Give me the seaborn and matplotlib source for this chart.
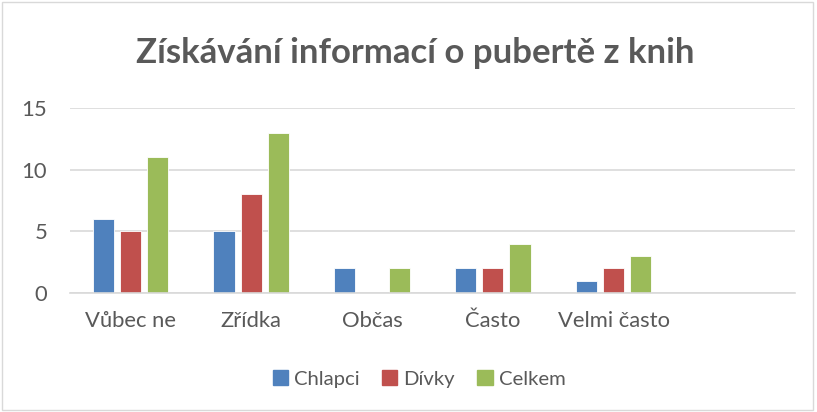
import pandas as pd
import matplotlib.pyplot as plt
import seaborn as sns
from matplotlib.patches import Rectangle

# Data
categories = ["Vůbec ne", "Zřídka", "Občas", "Často", "Velmi často"]
chlapci = [6, 5, 2, 2, 1]
divky = [5, 8, 0, 2, 2]
celkem = [11, 13, 2, 4, 3]
series_names = ["Chlapci", "Dívky", "Celkem"]
colors = ["#4F81BD", "#C0504D", "#9BBB59"]

df = pd.DataFrame({
    "Kategorie": categories * 3,
    "Počet": chlapci + divky + celkem,
    "Skupina": [series_names[0]] * 5 + [series_names[1]] * 5 + [series_names[2]] * 5,
})

sns.set_style("white")
plt.rcParams["font.family"] = ["Lato", "DejaVu Sans"]

fig = plt.figure(figsize=(8.17, 4.12), dpi=100)
ax = fig.add_axes([0.0857, 0.2888, 0.8873, 0.4491])

sns.barplot(data=df, x="Kategorie", y="Počet", hue="Skupina", order=categories,
            hue_order=series_names, palette=colors, saturation=1, width=0.675, gap=0.22,
            edgecolor="white", linewidth=0.6, ax=ax, legend=True)

ax.set_xlim(-0.5, 5.5)
ax.set_ylim(0, 15)
ax.set_yticks([0, 5, 10, 15])
ax.yaxis.grid(True, color="#D9D9D9", linewidth=1.2)
ax.set_axisbelow(True)
for s in ["top", "right", "left"]:
    ax.spines[s].set_visible(False)
ax.spines["bottom"].set_color("#D9D9D9")
ax.spines["bottom"].set_linewidth(1.2)
ax.set_xlabel("")
ax.set_ylabel("")
ax.tick_params(axis="both", length=0, labelsize=15.8, labelcolor="#595959")
ax.tick_params(axis="y", pad=16.5)
ax.tick_params(axis="x", pad=13)

fig.text(0.508, 0.872, "Získávání informací o pubertě z knih", ha="center", va="center",
         fontsize=25, fontweight="bold", color="#595959")

ax.legend_.remove()
handles = [Rectangle((0, 0), 1, 1, color=c) for c in colors]
fig.legend(handles, series_names, loc="center", bbox_to_anchor=(0.513, 0.08), ncol=3,
           frameon=False, fontsize=14.6, labelcolor="#595959", handlelength=0.75,
           handleheight=0.75, handletextpad=0.3, columnspacing=1.1)

fig.patches.append(Rectangle((0.003, 0.005), 0.992, 0.99, transform=fig.transFigure,
                             fill=False, edgecolor="#D9D9D9", linewidth=1))

fig.savefig("out.png", dpi=100)
